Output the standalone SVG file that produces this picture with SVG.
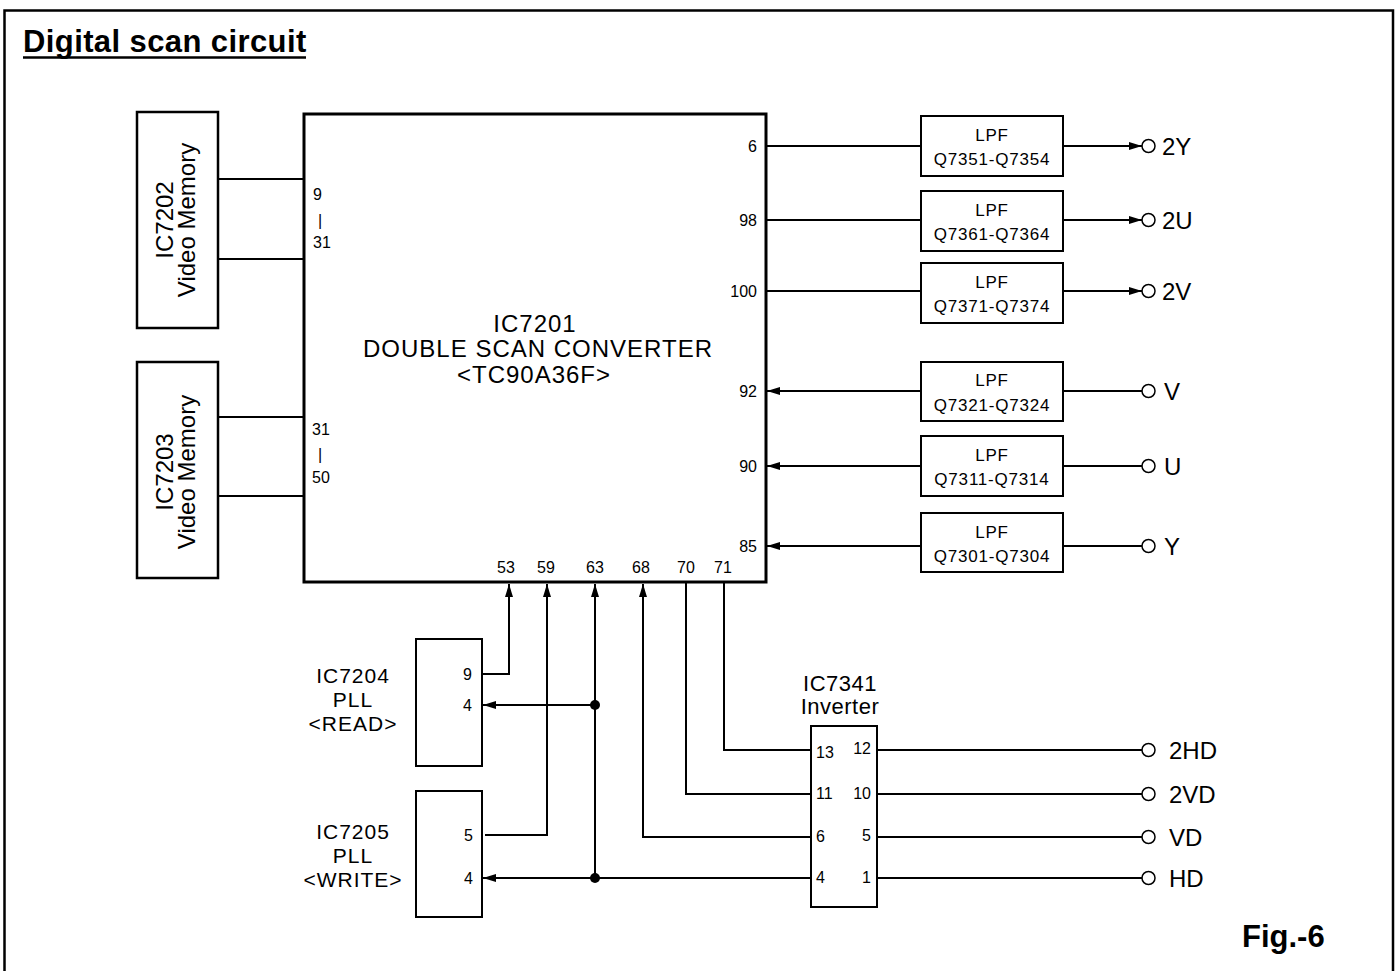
<svg xmlns="http://www.w3.org/2000/svg" width="1399" height="971" viewBox="0 0 1399 971">
<defs>
<style>
text{font-family:"Liberation Sans",Arial,Helvetica,sans-serif;fill:#000}
.box{fill:#fff;stroke:#000;stroke-width:2}
.main{fill:#fff;stroke:#000;stroke-width:3}
.vm{fill:#fff;stroke:#000;stroke-width:2.5}
.w{fill:none;stroke:#000;stroke-width:2}
.pin{font-size:16px}
.lpf{font-size:17px;letter-spacing:0.8px;text-anchor:middle}
.big{font-size:24px;letter-spacing:1px;text-anchor:middle}
.lbl{font-size:21px;letter-spacing:1px;text-anchor:middle}
.vmt{font-size:24px;text-anchor:middle}
.out{font-size:24px}
.term{fill:#fff;stroke:#000;stroke-width:1.5}
.arr{marker-end:url(#ah)}
</style>
<marker id="ah" markerUnits="userSpaceOnUse" markerWidth="13" markerHeight="8" refX="13" refY="4" orient="auto">
<path d="M0,0 L13,4 L0,8 z" fill="#000"/>
</marker>
</defs>
<rect x="0" y="0" width="1399" height="971" fill="#fff"/>
<rect x="4.5" y="10.5" width="1388.5" height="970" fill="none" stroke="#000" stroke-width="2.5"/>
<g id="title">
<text x="23" y="52" style="font-size:31px;font-weight:bold;letter-spacing:0.4px">Digital scan circuit</text>
<line x1="23" y1="57.5" x2="306" y2="57.5" stroke="#000" stroke-width="2.5"/>
</g>
<g id="fig">
<text x="1242" y="947" style="font-size:31px;font-weight:bold">Fig.-6</text>
</g>

<g id="connectors">
<line class="w" x1="218" y1="179" x2="304" y2="179"/>
<line class="w" x1="218" y1="259" x2="304" y2="259"/>
<line class="w" x1="218" y1="417" x2="304" y2="417"/>
<line class="w" x1="218" y1="496" x2="304" y2="496"/>
<line class="w" x1="766" y1="146" x2="921" y2="146"/>
<line class="w" x1="766" y1="220" x2="921" y2="220"/>
<line class="w" x1="766" y1="291" x2="921" y2="291"/>
<line class="w arr" x1="1063" y1="146" x2="1142" y2="146"/>
<line class="w arr" x1="1063" y1="220" x2="1142" y2="220"/>
<line class="w arr" x1="1063" y1="291" x2="1142" y2="291"/>
<line class="w arr" x1="921" y1="391" x2="767" y2="391"/>
<line class="w arr" x1="921" y1="466" x2="767" y2="466"/>
<line class="w arr" x1="921" y1="546" x2="767" y2="546"/>
<line class="w" x1="1063" y1="391" x2="1142" y2="391"/>
<line class="w" x1="1063" y1="466" x2="1142" y2="466"/>
<line class="w" x1="1063" y1="546" x2="1142" y2="546"/>
<polyline class="w arr" points="483,674 509,674 509,584"/>
<polyline class="w arr" points="485,835 547,835 547,584"/>
<line class="w arr" x1="595" y1="878" x2="595" y2="584"/>
<line class="w arr" x1="595" y1="705" x2="483" y2="705"/>
<line class="w arr" x1="811" y1="878" x2="483" y2="878"/>
<polyline class="w arr" points="811,837 643,837 643,584"/>
<polyline class="w" points="686,583 686,794 811,794"/>
<polyline class="w" points="724,583 724,750 811,750"/>
<circle cx="595" cy="705" r="5" fill="#000"/>
<circle cx="595" cy="878" r="5" fill="#000"/>
<line class="w" x1="877" y1="750" x2="1142" y2="750"/>
<line class="w" x1="877" y1="794" x2="1142" y2="794"/>
<line class="w" x1="877" y1="837" x2="1142" y2="837"/>
<line class="w" x1="877" y1="878" x2="1142" y2="878"/>
</g>

<g id="IC7202">
<rect class="vm" x="137" y="112" width="81" height="216"/>
<text class="vmt" transform="translate(173,220) rotate(-90)">IC7202</text>
<text class="vmt" transform="translate(195,220) rotate(-90)">Video Memory</text>
</g>
<g id="IC7203">
<rect class="vm" x="137" y="362" width="81" height="216"/>
<text class="vmt" transform="translate(173,472) rotate(-90)">IC7203</text>
<text class="vmt" transform="translate(195,472) rotate(-90)">Video Memory</text>
</g>

<g id="IC7201">
<rect class="main" x="304" y="114" width="462" height="468"/>
<text class="big" x="535" y="332">IC7201</text>
<text class="big" x="538" y="357">DOUBLE SCAN CONVERTER</text>
<text class="big" x="534" y="383">&lt;TC90A36F&gt;</text>
<text class="pin" x="313" y="200">9</text>
<text class="pin" x="320" y="226" text-anchor="middle">|</text>
<text class="pin" x="313" y="248">31</text>
<text class="pin" x="312" y="435">31</text>
<text class="pin" x="320" y="460" text-anchor="middle">|</text>
<text class="pin" x="312" y="483">50</text>
<text class="pin" x="757" y="152" text-anchor="end">6</text>
<text class="pin" x="757" y="226" text-anchor="end">98</text>
<text class="pin" x="757" y="297" text-anchor="end">100</text>
<text class="pin" x="757" y="397" text-anchor="end">92</text>
<text class="pin" x="757" y="472" text-anchor="end">90</text>
<text class="pin" x="757" y="552" text-anchor="end">85</text>
<text class="pin" x="506" y="573" text-anchor="middle">53</text>
<text class="pin" x="546" y="573" text-anchor="middle">59</text>
<text class="pin" x="595" y="573" text-anchor="middle">63</text>
<text class="pin" x="641" y="573" text-anchor="middle">68</text>
<text class="pin" x="686" y="573" text-anchor="middle">70</text>
<text class="pin" x="723" y="573" text-anchor="middle">71</text>
</g>

<g id="LPF7351">
<rect class="box" x="921" y="116" width="142" height="60"/>
<text class="lpf" x="992" y="141">LPF</text>
<text class="lpf" x="992" y="165">Q7351-Q7354</text>
</g>
<g id="LPF7361">
<rect class="box" x="921" y="191" width="142" height="60"/>
<text class="lpf" x="992" y="216">LPF</text>
<text class="lpf" x="992" y="240">Q7361-Q7364</text>
</g>
<g id="LPF7371">
<rect class="box" x="921" y="263" width="142" height="60"/>
<text class="lpf" x="992" y="288">LPF</text>
<text class="lpf" x="992" y="312">Q7371-Q7374</text>
</g>
<g id="LPF7321">
<rect class="box" x="921" y="362" width="142" height="59"/>
<text class="lpf" x="992" y="386">LPF</text>
<text class="lpf" x="992" y="411">Q7321-Q7324</text>
</g>
<g id="LPF7311">
<rect class="box" x="921" y="436" width="142" height="60"/>
<text class="lpf" x="992" y="461">LPF</text>
<text class="lpf" x="992" y="485">Q7311-Q7314</text>
</g>
<g id="LPF7301">
<rect class="box" x="921" y="513" width="142" height="59"/>
<text class="lpf" x="992" y="538">LPF</text>
<text class="lpf" x="992" y="562">Q7301-Q7304</text>
</g>

<g id="terminals">
<circle class="term" cx="1148.5" cy="146" r="6.5"/><text class="out" x="1162" y="155">2Y</text>
<circle class="term" cx="1148.5" cy="220" r="6.5"/><text class="out" x="1162" y="229">2U</text>
<circle class="term" cx="1148.5" cy="291" r="6.5"/><text class="out" x="1162" y="300">2V</text>
<circle class="term" cx="1148.5" cy="391" r="6.5"/><text class="out" x="1164" y="400">V</text>
<circle class="term" cx="1148.5" cy="466" r="6.5"/><text class="out" x="1164" y="475">U</text>
<circle class="term" cx="1148.5" cy="546" r="6.5"/><text class="out" x="1164" y="555">Y</text>
<circle class="term" cx="1148.5" cy="750" r="6.5"/><text class="out" x="1169" y="759">2HD</text>
<circle class="term" cx="1148.5" cy="794" r="6.5"/><text class="out" x="1169" y="803">2VD</text>
<circle class="term" cx="1148.5" cy="837" r="6.5"/><text class="out" x="1169" y="846">VD</text>
<circle class="term" cx="1148.5" cy="878" r="6.5"/><text class="out" x="1169" y="887">HD</text>
</g>

<g id="IC7204">
<rect class="box" x="416" y="639" width="66" height="127"/>
<text class="lbl" x="353" y="683">IC7204</text>
<text class="lbl" x="353" y="707">PLL</text>
<text class="lbl" x="353" y="731">&lt;READ&gt;</text>
<text class="pin" x="463" y="680">9</text>
<text class="pin" x="463" y="711">4</text>
</g>
<g id="IC7205">
<rect class="box" x="416" y="791" width="66" height="126"/>
<text class="lbl" x="353" y="839">IC7205</text>
<text class="lbl" x="353" y="863">PLL</text>
<text class="lbl" x="353" y="887">&lt;WRITE&gt;</text>
<text class="pin" x="464" y="841">5</text>
<text class="pin" x="464" y="884">4</text>
</g>

<g id="IC7341">
<rect class="box" x="811" y="726" width="66" height="181"/>
<text class="lbl" x="840" y="691" style="font-size:22px;letter-spacing:0.5px">IC7341</text>
<text class="lbl" x="840" y="714" style="font-size:22px;letter-spacing:0.5px">Inverter</text>
<text class="pin" x="816" y="758">13</text>
<text class="pin" x="871" y="754" text-anchor="end">12</text>
<text class="pin" x="816" y="799">11</text>
<text class="pin" x="871" y="799" text-anchor="end">10</text>
<text class="pin" x="816" y="842">6</text>
<text class="pin" x="871" y="841" text-anchor="end">5</text>
<text class="pin" x="816" y="883">4</text>
<text class="pin" x="871" y="883" text-anchor="end">1</text>
</g>
</svg>
